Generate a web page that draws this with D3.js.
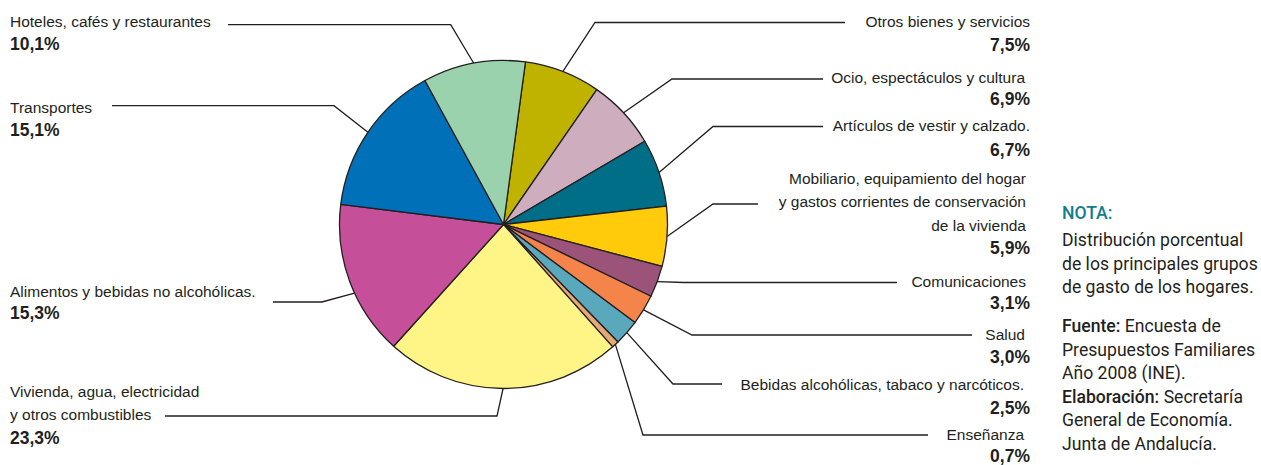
<!DOCTYPE html>
<html>
<head>
<meta charset="utf-8">
<script src="https://cdn.jsdelivr.net/npm/d3@7"></script>
<style>
  html, body { margin: 0; padding: 0; background: #fff; }
  svg { display: block; }
</style>
</head>
<body>
<svg id="chart" width="1261" height="465"></svg>
<script>
// ---- data ----
const categories = [
  "Otros bienes y servicios",
  "Ocio, espectáculos y cultura",
  "Artículos de vestir y calzado.",
  "Mobiliario, equipamiento del hogar\ny gastos corrientes de conservación\nde la vivienda",
  "Comunicaciones",
  "Salud",
  "Bebidas alcohólicas, tabaco y narcóticos.",
  "Enseñanza",
  "Vivienda, agua, electricidad\ny otros combustibles",
  "Alimentos y bebidas no alcohólicas.",
  "Transportes",
  "Hoteles, cafés y restaurantes"
];
const values = [7.5, 6.9, 6.7, 5.9, 3.1, 3.0, 2.5, 0.7, 23.3, 15.3, 15.1, 10.1];
const colors = ["#bfb300", "#ceadbe", "#006e87", "#ffcb0a", "#9c5379", "#f4844a",
                "#5aa8bc", "#e5a877", "#fff586", "#c64f9a", "#0071b9", "#9bd2ae"];
const noteTitle = "NOTA:";
const noteLines = ["Distribución porcentual", "de los principales grupos", "de gasto de los hogares."];
const sourceLines = [
  [["Fuente:", true], [" Encuesta de", false]],
  [["Presupuestos Familiares", false]],
  [["Año 2008 (INE).", false]],
  [["Elaboración:", true], [" Secretaría", false]],
  [["General de Economía.", false]],
  [["Junta de Andalucía.", false]]
];

// ---- layout (positions only) ----
const cx = 503.5, cy = 224.5, R = 164;
const startDeg = 7.7;
// side, text x, first-line baseline, percent baseline, elbow x/y, line end x, optional anchor angle
const layout = [
  {side: "r", tx: 1030, ty: 26.5, py: 51,  ex: 595, ey: 22.5, hx: 845},
  {side: "r", tx: 1025, ty: 82.5, py: 105, ex: 672, ey: 79,   hx: 823},
  {side: "r", tx: 1030, ty: 130.5, py: 156, ex: 713, ey: 126.5, hx: 823},
  {side: "r", tx: 1026, ty: 183.5, py: 254, ex: 713, ey: 204,  hx: 758},
  {side: "r", tx: 1026, ty: 286.5, py: 309, ex: 684, ey: 282.5, hx: 897},
  {side: "r", tx: 1025, ty: 339.5, py: 363, ex: 692, ey: 335,  hx: 972},
  {side: "r", tx: 1024, ty: 389.5, py: 414, ex: 673, ey: 384,  hx: 722},
  {side: "r", tx: 1024, ty: 439.5, py: 462, ex: 643, ey: 435,  hx: 928},
  {side: "l", tx: 10, ty: 396.5, py: 444, ex: 497, ey: 416,   hx: 165},
  {side: "l", tx: 10, ty: 296.5, py: 319, ex: 322, ey: 302,   hx: 273, a: 245.3},
  {side: "l", tx: 10, ty: 112.5, py: 136, ex: 334, ey: 105.7, hx: 112},
  {side: "l", tx: 10, ty: 26.5,  py: 50,  ex: 450.7, ey: 24.7, hx: 228}
];
const lineStep = 23.5;
const ink = "#231f20";

const svg = d3.select("#chart");
const locale = d3.formatLocale({decimal: ",", thousands: ".", grouping: [3], currency: ["", "€"]});
const fmt = locale.format(".1f");

const toRad = d => d * Math.PI / 180;
const pie = d3.pie().sort(null).value(d => d)
  .startAngle(toRad(startDeg)).endAngle(toRad(startDeg) + 2 * Math.PI);
const arcs = pie(values);
const arc = d3.arc().innerRadius(0).outerRadius(R);

const g = svg.append("g").attr("transform", `translate(${cx},${cy})`);
g.selectAll("path.slice").data(arcs).join("path")
  .attr("class", "slice")
  .attr("d", arc)
  .attr("fill", (d, i) => colors[i])
  .attr("stroke", ink)
  .attr("stroke-width", 1.3)
  .attr("stroke-linejoin", "round");

// leader lines
const leaders = svg.append("g");
arcs.forEach((d, i) => {
  const L = layout[i];
  const ang = L.a !== undefined ? toRad(L.a) : (d.startAngle + d.endAngle) / 2;
  const sx = cx + R * Math.sin(ang), sy = cy - R * Math.cos(ang);
  leaders.append("path")
    .attr("d", d3.line()([[sx, sy], [L.ex, L.ey], [L.hx, L.ey]]))
    .attr("fill", "none")
    .attr("stroke", ink)
    .attr("stroke-width", 1.3);
});

// labels
const labels = svg.append("g").attr("fill", ink);
categories.forEach((name, i) => {
  const L = layout[i];
  const anchor = L.side === "r" ? "end" : "start";
  const t = labels.append("text")
    .attr("font-family", "'Liberation Sans', Arial, sans-serif")
    .attr("font-size", 15.5)
    .attr("text-anchor", anchor);
  name.split("\n").forEach((ln, k) => {
    t.append("tspan").attr("x", L.tx).attr("y", L.ty + k * lineStep).text(ln);
  });
  labels.append("text")
    .attr("x", L.side === "r" ? 1030 : L.tx)
    .attr("y", L.py)
    .attr("text-anchor", anchor)
    .attr("font-family", "'Liberation Sans', Arial, sans-serif")
    .attr("font-size", 17.5)
    .attr("font-weight", "bold")
    .text(fmt(values[i]) + "%");
});

// note
const note = svg.append("g").attr("font-family", "Roboto, 'Open Sans', sans-serif").attr("font-size", 17.6);
note.append("text").attr("x", 1062).attr("y", 219).attr("fill", "#127c90")
  .attr("font-weight", 500).text(noteTitle);
noteLines.forEach((ln, k) => {
  note.append("text").attr("x", 1062).attr("y", 246 + k * 23.5).attr("fill", ink).text(ln);
});
sourceLines.forEach((parts, k) => {
  const t = note.append("text").attr("x", 1062).attr("y", 332 + k * 23.6).attr("fill", ink);
  parts.forEach(([txt, b]) => {
    t.append("tspan").attr("font-weight", b ? 500 : 400).text(txt);
  });
});
</script>
</body>
</html>
